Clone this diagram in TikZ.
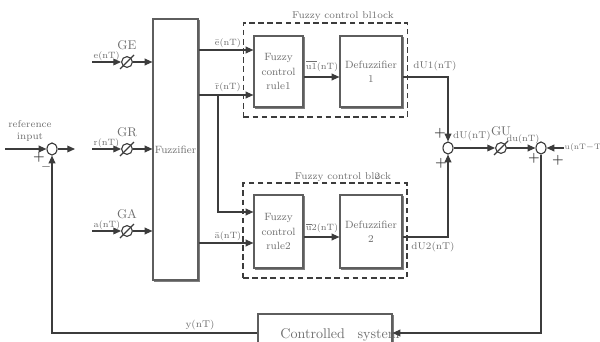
\documentclass[tikz,border=0pt]{standalone}
\usetikzlibrary{arrows.meta, calc, shapes.geometric, shadows}
\definecolor{lngray}{HTML}{3C3C3C}
\definecolor{txgray}{HTML}{6E6E6E}
\definecolor{bxgray}{HTML}{5E5E5E}
\definecolor{shdgray}{HTML}{B0A2A2}

\begin{document}
\begin{tikzpicture}[
    x=0.025cm, y=-0.025cm,
    >={Triangle[length=5.5pt, width=4.8pt]},
    every node/.style={text=txgray, font=\fontsize{7}{8.5}\selectfont},
    line/.style={lngray, line width=0.8pt},
    block/.style={draw=bxgray, fill=white, line width=0.8pt, inner sep=1pt,
      align=center, font=\fontsize{7.5}{10}\selectfont,
      drop shadow={shadow xshift=1.2pt, shadow yshift=-1.2pt,
                   fill=shdgray, draw=bxgray!80, opacity=1}},
    dblock/.style={draw=lngray, line width=1.2pt, dash pattern=on 4pt off 2.5pt,
      minimum width=4.1cm, minimum height=2.36cm, inner sep=0},
    gain/.style={draw=lngray, line width=0.8pt, circle, minimum size=0.27cm, inner sep=0},
    sumj/.style={draw=lngray, line width=0.8pt, ellipse, minimum width=0.25cm,
      minimum height=0.3cm, inner sep=0},
    sign/.style={text=lngray, font=\bfseries\fontsize{9}{9}\selectfont, inner sep=0},
    glbl/.style={font=\fontsize{9}{9}\selectfont, inner sep=1pt, label distance=3pt},
    small/.style={font=\fontsize{6.5}{7}\selectfont},
  ]

  % ══════════════════════════════════════════════════════
  % Frame
  % ══════════════════════════════════════════════════════
  \clip (0,0) rectangle (600,342);

  \coordinate (refin) at (5,149);
  \coordinate (refout) at (75,149);
  \coordinate (ein) at (92,62);
  \coordinate (rin) at (92,149);
  \coordinate (ain) at (92,231);
  \coordinate (ebar) at (0,50);
  \coordinate (rbar) at (0,95);
  \coordinate (rtap) at (218,95);
  \coordinate (rbar2) at (0,212);
  \coordinate (abar) at (0,243);
  \coordinate (m1) at (0,77);
  \coordinate (m2) at (0,237);
  \coordinate (fb) at (0,333);
  \coordinate (uprev) at (564,148);

  % ══════════════════════════════════════════════════════
  % Fuzzy control blocks (dashed)
  % ══════════════════════════════════════════════════════
  \node[dblock] (blk1) at (325.5,70) {};
  \node[dblock] (blk2) at (325,230.5) {};
  \node (blk1lbl) at (343,16) {Fuzzy control bl1ock};
  \node (blk2lbl) at (343,177) {Fuzzy control bl\rlap{2}ock};

  % ══════════════════════════════════════════════════════
  % Blocks
  % ══════════════════════════════════════════════════════
  \node[block, minimum width=1.125cm, minimum height=6.525cm] (fuzz) at (175.5,149.5) {Fuzzifier};
  \node[block, minimum width=1.225cm, minimum height=1.775cm] (rule1) at (278.5,71.5) {Fuzzy\\control\\rule1};
  \node[block, minimum width=1.55cm, minimum height=1.775cm] (defz1) at (371,71.5) {Defuzzifier\\1};
  \node[block, minimum width=1.225cm, minimum height=1.825cm] (rule2) at (278.5,231.5) {Fuzzy\\control\\rule2};
  \node[block, minimum width=1.55cm, minimum height=1.825cm] (defz2) at (371,231.5) {Defuzzifier\\2};
  \node[block, minimum width=3.35cm, minimum height=1.3cm] (plant) at (325,340) {};
  \node[font=\fontsize{10}{12}\selectfont] (plantlbl) at (340,335) {Controlled\hspace{0.9em}system};

  % ══════════════════════════════════════════════════════
  % Summing junctions and gains
  % ══════════════════════════════════════════════════════
  \node[sumj] (sum1) at (52,149) {};
  \node[sumj] (sum2) at (448,148) {};
  \node[sumj] (sum3) at (541,148) {};

  \node[gain, label={[glbl]above:GE}] (ge) at (127,62) {};
  \node[gain, label={[glbl]above:GR}] (gr) at (127,149) {};
  \node[gain, label={[glbl]above:GA}] (ga) at (127,231) {};
  \node[gain] (gu) at (501,148) {};
  \foreach \g in {ge,gr,ga,gu}{
    \draw[line] ($(\g)+(-7,7)$) -- ($(\g)+(7,-7)$);
  }

  % ══════════════════════════════════════════════════════
  % Reference input
  % ══════════════════════════════════════════════════════
  \node[align=center] (reflbl) at (30,131) {reference\\input};
  \draw[line,->] (refin) -- (sum1.west);
  \draw[line,->] (sum1.east) -- (refout);
  \node[sign] (s1a) at (39,157) {+};
  \node[sign] (s1b) at (46,169) {--};

  % ══════════════════════════════════════════════════════
  % Scaled inputs to fuzzifier
  % ══════════════════════════════════════════════════════
  \draw[line,->] (ein) -- (ge.west);
  \draw[line,->] (rin) -- (gr.west);
  \draw[line,->] (ain) -- (ga.west);
  \draw[line,->] (ge.east) -- (fuzz.west |- ge);
  \draw[line,->] (gr.east) -- (fuzz.west |- gr);
  \draw[line,->] (ga.east) -- (fuzz.west |- ga);
  \node[small, anchor=south west, inner sep=1pt] (elbl) at (ein) {e(nT)};
  \node[small, anchor=south west, inner sep=1pt] (rlbl) at (rin) {r(nT)};
  \node[small, anchor=south west, inner sep=1pt] (albl) at (ain) {a(nT)};

  % ══════════════════════════════════════════════════════
  % Fuzzifier outputs
  % ══════════════════════════════════════════════════════
  \draw[line,->] (fuzz.east |- ebar) -- (rule1.west |- ebar);
  \draw[line,->] (fuzz.east |- rbar) -- (rule1.west |- rbar);
  \draw[line,->] (rtap) |- (rule2.west |- rbar2);
  \draw[line,->] (fuzz.east |- abar) -- (rule2.west |- abar);
  \node[small] (ebarlbl) at (228,43) {\=e(nT)};
  \node[small] (rbarlbl) at (228,87) {\=r(nT)};
  \node[small] (abarlbl) at (228,236) {\=a(nT)};

  % ══════════════════════════════════════════════════════
  % Rule to defuzzifier
  % ══════════════════════════════════════════════════════
  \draw[line,->] (rule1.east |- m1) -- (defz1.west |- m1);
  \draw[line,->] (rule2.east |- m2) -- (defz2.west |- m2);
  \node[small] (u1lbl) at (322,66) {$\overline{\mbox{u1}}$(nT)};
  \node[small] (u2lbl) at (322,228) {$\overline{\mbox{u}}$2(nT)};

  % ══════════════════════════════════════════════════════
  % Defuzzifier outputs to sum
  % ══════════════════════════════════════════════════════
  \draw[line,->] (defz1.east |- m1) -| (sum2.north);
  \draw[line,->] (defz2.east |- m2) -| (sum2.south);
  \node (du1lbl) at (435,66) {dU1(nT)};
  \node (du2lbl) at (433,247) {dU2(nT)};
  \node[sign] (s2a) at (440,133) {+};
  \node[sign] (s2b) at (441,163) {+};

  % ══════════════════════════════════════════════════════
  % Output gain and incremental sum
  % ══════════════════════════════════════════════════════
  \draw[line,->] (sum2.east) -- (gu.west);
  \draw[line,->] (gu.east) -- (sum3.west);
  \draw[line,->] (uprev) -- (sum3.east);
  \node (dulbl) at (472,136) {dU(nT)};
  \node[glbl] (gulbl) at (501,131) {GU};
  \node[small] (dusub) at (523,139) {du(nT)};
  \node[anchor=west, inner sep=0.3pt, font=\fontsize{5.6}{6}\selectfont] (uprevlbl) at (uprev) {u(nT$-$T)};
  \node[sign] (s3a) at (534,158) {+};
  \node[sign] (s3b) at (558,160) {+};

  % ══════════════════════════════════════════════════════
  % Plant and feedback
  % ══════════════════════════════════════════════════════
  \draw[line,->] (sum3.south) |- (plant.east |- fb);
  \draw[line,->] (plant.west |- fb) -| (sum1.south);
  \node (ylbl) at (200,325) {y(nT)};

\end{tikzpicture}
\end{document}
